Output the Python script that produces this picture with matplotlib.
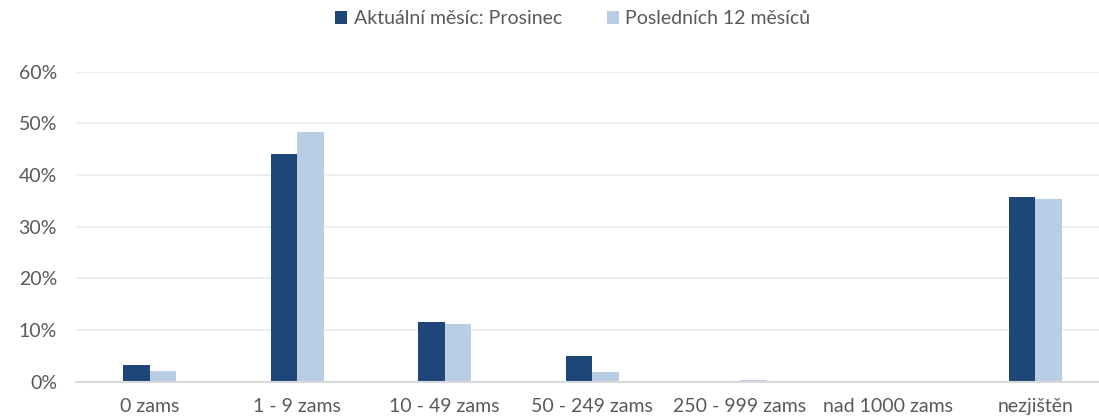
import matplotlib
matplotlib.use("Agg")
import matplotlib.pyplot as plt
import numpy as np

categories = ["0 zams", "1 - 9 zams", "10 - 49 zams", "50 - 249 zams",
              "250 - 999 zams", "nad 1000 zams", "nezjištěn"]
current_month = [3.2, 44.1, 11.5, 5.0, 0.0, 0.0, 35.7]
last_12_months = [2.1, 48.3, 11.1, 1.9, 0.4, 0.0, 35.4]
series_names = ["Aktuální měsíc: Prosinec", "Posledních 12 měsíců"]
yticks = [0, 10, 20, 30, 40, 50, 60]

plt.rcParams['font.family'] = ['Lato', 'DejaVu Sans']
text_color = "#595959"
dark = "#1F4678"
light = "#B9CDE5"

fig = plt.figure(figsize=(10.99, 4.20), dpi=100)
W, H = 1099, 420
left_px, right_px = 75.7, 1109.0
top_px, bottom_px = 71.7, 381.7
ax = fig.add_axes([left_px / W, (H - bottom_px) / H,
                   (right_px - left_px) / W, (bottom_px - top_px) / H])

x = np.arange(len(categories))
bw = 0.18
ax.bar(x - bw / 2, current_month, bw, color=dark, label=series_names[0], zorder=3)
ax.bar(x + bw / 2, last_12_months, bw, color=light, label=series_names[1], zorder=3)

ax.set_xlim(-0.5, len(categories) - 0.5)
ax.set_ylim(0, 60)
ax.set_yticks(yticks)
ax.set_yticklabels([f"{v}%" for v in yticks])
ax.set_xticks(x)
ax.set_xticklabels(categories)
ax.tick_params(axis='both', length=0, colors=text_color, labelsize=14)
ax.tick_params(axis='y', pad=13.5)
ax.tick_params(axis='x', pad=12)

ax.grid(axis='y', color="#EBEBEB", linewidth=1.2, zorder=0)
for s in ["top", "right", "left"]:
    ax.spines[s].set_visible(False)
ax.spines["bottom"].set_color("#D9D9D9")
ax.spines["bottom"].set_linewidth(1.5)
ax.spines["bottom"].set_zorder(4)

fig.legend(loc="center", bbox_to_anchor=(573 / W, 1 - 19 / H), ncol=2, frameon=False,
           fontsize=14, labelcolor=text_color, handlelength=0.6, handleheight=0.6,
           handletextpad=0.35, columnspacing=2.3)

fig.savefig("out.png", dpi=100)
